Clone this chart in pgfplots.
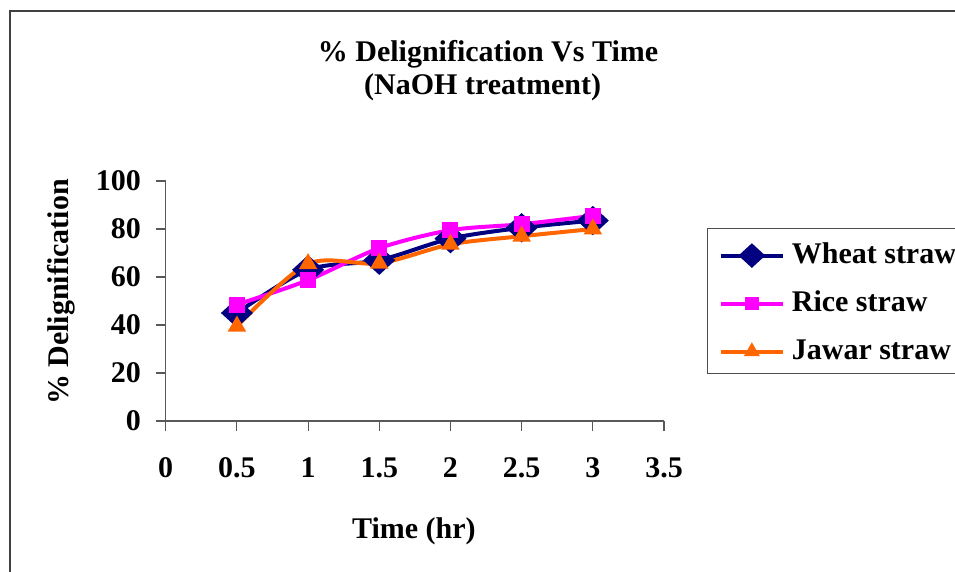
\documentclass[border=0pt]{standalone}
\usepackage{fontspec}
\setmainfont{Liberation Serif}
\usepackage{pgfplots}
\pgfplotsset{compat=1.18}
\definecolor{wheatc}{HTML}{000080}
\definecolor{ricec}{HTML}{FF00FF}
\definecolor{jawarc}{HTML}{FF6600}
\newcommand{\bigbf}{\fontsize{22.5}{27}\selectfont\bfseries}
\begin{document}
\begin{tikzpicture}
\useasboundingbox (0pt,0pt) rectangle (716.25pt,428.25pt);
\clip (0pt,0pt) rectangle (716.25pt,428.25pt);
\fill[white] (0pt,0pt) rectangle (716.25pt,428.25pt);
\draw[line width=1.2pt, black!75] (7.5pt,-10pt) rectangle (740pt,420pt);
% title
\node[anchor=base, font=\bigbf, inner sep=0pt] at (366pt,382pt) {\% Delignification Vs Time};
\node[anchor=base, font=\bigbf, inner sep=0pt] at (362pt,357pt) {(NaOH treatment)};
\begin{axis}[
  at={(124.3pt,112.5pt)}, anchor=south west,
  scale only axis, width=373.7pt, height=180pt,
  xmin=0, xmax=3.5, ymin=0, ymax=100,
  xtick={0,0.5,1,1.5,2,2.5,3,3.5},
  ytick={0,20,40,60,80,100},
  xticklabels={0,0.5,1,1.5,2,2.5,3,3.5},
  axis lines=left, axis line style={-, black!65, line width=0.8pt},
  tick align=outside, major tick length=7.5pt,
  tick style={black!65, line width=0.8pt},
  /pgf/number format/assume math mode=true,
  ticklabel style={font=\bigbf},
  xticklabel style={anchor=north, inner sep=0pt, yshift=-20pt},
  yticklabel style={anchor=east, inner sep=0pt, xshift=-11pt},
  xlabel={Time (hr)},
  ylabel={\% Delignification},
  label style={font=\bigbf},
  xlabel style={at={(axis description cs:0.498,-0.4875)}, anchor=base, inner sep=0pt},
  ylabel style={at={(axis description cs:-0.21,0.5375)}, anchor=center, inner sep=0pt},
  legend style={at={(1.0863,0.804)}, anchor=north west, draw=black!70, line width=0.8pt,
    font=\bigbf, inner xsep=8.25pt, inner ysep=8.5pt, row sep=16.5pt, column sep=5pt,
    nodes={inner sep=0pt, text height=17.5pt, text depth=2pt}},
  legend cell align=left,
  legend image code/.code={\draw[mark repeat=2,mark phase=2,/tikz/every mark/.append style={scale=0.8}] plot coordinates {(0pt,-2pt)(23.5pt,-2pt)(47pt,-2pt)};},
  clip=false,
]
\addplot[wheatc, line width=3pt, smooth, mark=diamond*, mark size=9pt, mark options={xscale=1.45, solid}]
  coordinates {(0.5,45) (1,63) (1.5,67) (2,76) (2.5,80.5) (3,83.5)};
\addlegendentry{Wheat straw}
\addplot[ricec, line width=3pt, smooth, mark=square*, mark size=4.5pt, mark options={solid}]
  coordinates {(0.5,48.5) (1,58.7) (1.5,72) (2,79.5) (2.5,82) (3,85.5)};
\addlegendentry{Rice straw}
\addplot[jawarc, line width=3pt, smooth, mark=triangle*, mark size=5pt, mark options={solid}]
  coordinates {(0.5,39.5) (1,65.5) (1.5,65.7) (2,73.6) (2.5,77) (3,80)};
\addlegendentry{Jawar straw}
\end{axis}
\end{tikzpicture}
\end{document}
